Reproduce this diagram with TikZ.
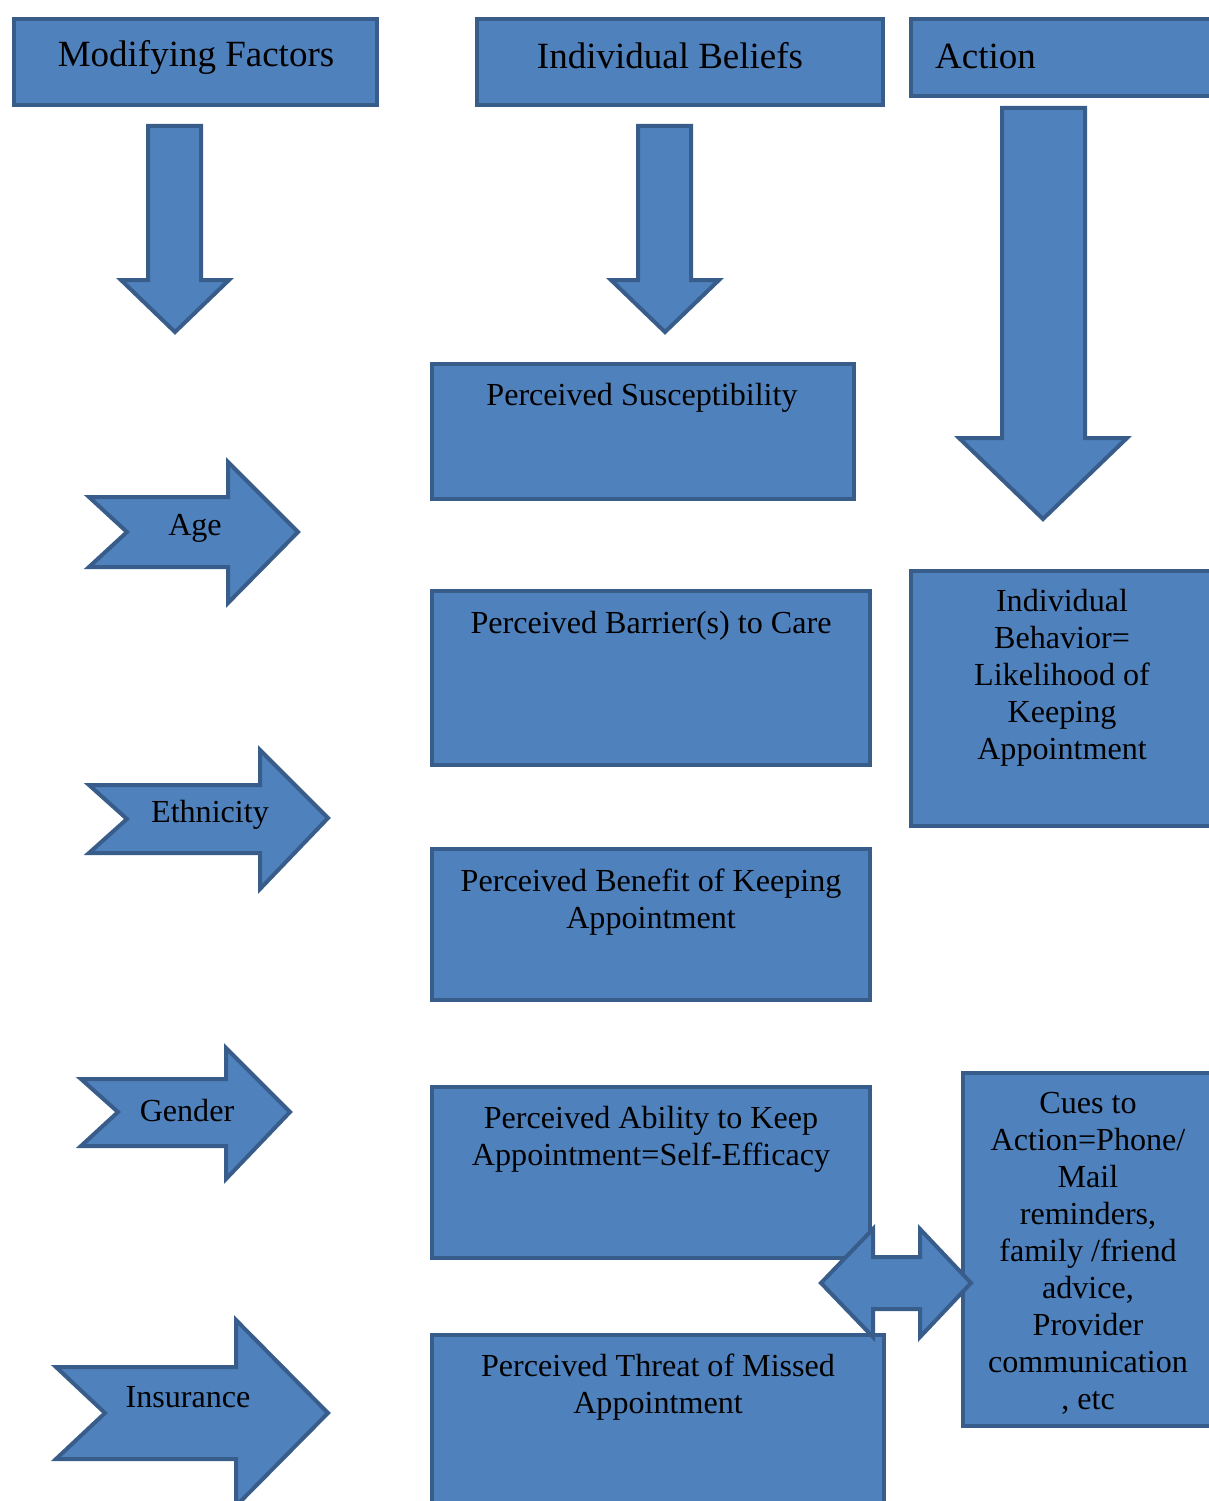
\documentclass[tikz,border=0pt]{standalone}
\usepackage{fontspec}
\setmainfont{Liberation Serif}
\usetikzlibrary{positioning}
\definecolor{boxblue}{HTML}{4F81BD}
\definecolor{edgeblue}{HTML}{385D8A}

\begin{document}
\begin{tikzpicture}[x=1pt, y=-1pt,
	blockbox/.style={fill=boxblue, draw=edgeblue, line width=4pt, line join=miter},
	bodytext/.style={font=\fontsize{32.1}{37}\selectfont, align=center, inner sep=0pt},
	headtext/.style={font=\fontsize{37}{42}\selectfont, inner sep=0pt}]
	\useasboundingbox (0,0) rectangle (1209,1501); % Rand wie im Original
	\clip (0,0) rectangle (1209,1501);
	
	% Kopfzeile
	\draw[blockbox] (14,19) rectangle (377,105);
	\node[headtext] (modhead) at (196,57) {Modifying Factors};
	\draw[blockbox] (477,19) rectangle (883,105);
	\node[headtext] (belhead) at (670,56) {Individual Beliefs};
	\draw[blockbox] (911,19) rectangle (1230,96);
	\node[headtext, anchor=west] (acthead) at (935,56) {Action};
	
	% Pfeile nach unten
	\draw[blockbox] (148,126) -- (201,126) -- (201,280) -- (229,280) -- (175,332) -- (121,280) -- (148,280) -- cycle;
	\draw[blockbox] (638,126) -- (691,126) -- (691,280) -- (719,280) -- (665,332) -- (611,280) -- (638,280) -- cycle;
	\draw[blockbox] (1002,108) -- (1085,108) -- (1085,438) -- (1127,438) -- (1043,519) -- (959,438) -- (1002,438) -- cycle;
	
	% Individual Beliefs
	\draw[blockbox] (432,364) rectangle (854,499);
	\node[bodytext] (suscept) at (642,398) {Perceived Susceptibility};
	\draw[blockbox] (432,591) rectangle (870,765);
	\node[bodytext] (barrier) at (651,626) {Perceived Barrier(s) to Care};
	\draw[blockbox] (432,849) rectangle (870,1000);
	\node[bodytext] (benefit) at (651,902) {Perceived Benefit of Keeping\\Appointment};
	\draw[blockbox] (432,1087) rectangle (870,1258);
	\node[bodytext] (ability) at (651,1139) {Perceived Ability to Keep\\Appointment=Self-Efficacy};
	\draw[blockbox] (432,1335) rectangle (884,1530);
	\node[bodytext] (threat) at (658,1387) {Perceived Threat of Missed\\Appointment};
	
	% Action
	\draw[blockbox] (911,571) rectangle (1230,826);
	\node[bodytext] (behavior) at (1062,678) {Individual\\Behavior=\\Likelihood of\\Keeping\\Appointment};
	\draw[blockbox] (963,1073) rectangle (1230,1426);
	\node[bodytext] (cues) at (1088,1253) {Cues to\\Action=Phone/\\Mail\\reminders,\\family /friend\\advice,\\Provider\\communication\\, etc};
	
	% Modifying Factors
	\draw[blockbox] (89,497) -- (228,497) -- (228,462) -- (298,532) -- (228,603) -- (228,567) -- (89,567) -- (127,532) -- cycle;
	\node[bodytext] (age) at (195,528) {Age};
	\draw[blockbox] (89,785) -- (260,785) -- (260,750) -- (328,818) -- (260,889) -- (260,853) -- (89,853) -- (127,819) -- cycle;
	\node[bodytext] (ethnic) at (210,815) {Ethnicity};
	\draw[blockbox] (81,1079) -- (226,1079) -- (226,1048) -- (290,1112) -- (226,1179) -- (226,1146) -- (81,1146) -- (118,1112) -- cycle;
	\node[bodytext] (gender) at (187,1111) {Gender};
	\draw[blockbox] (56,1367) -- (236,1367) -- (236,1320) -- (328,1413) -- (236,1506) -- (236,1459) -- (56,1459) -- (105,1413) -- cycle;
	\node[bodytext] (insure) at (188,1397) {Insurance};
	
	% Doppelpfeil
	\draw[blockbox] (821,1283) -- (873,1229) -- (873,1257) -- (920,1257) -- (920,1229) -- (971,1283) -- (920,1337) -- (920,1309) -- (873,1309) -- (873,1337) -- cycle;
\end{tikzpicture}
\end{document}
